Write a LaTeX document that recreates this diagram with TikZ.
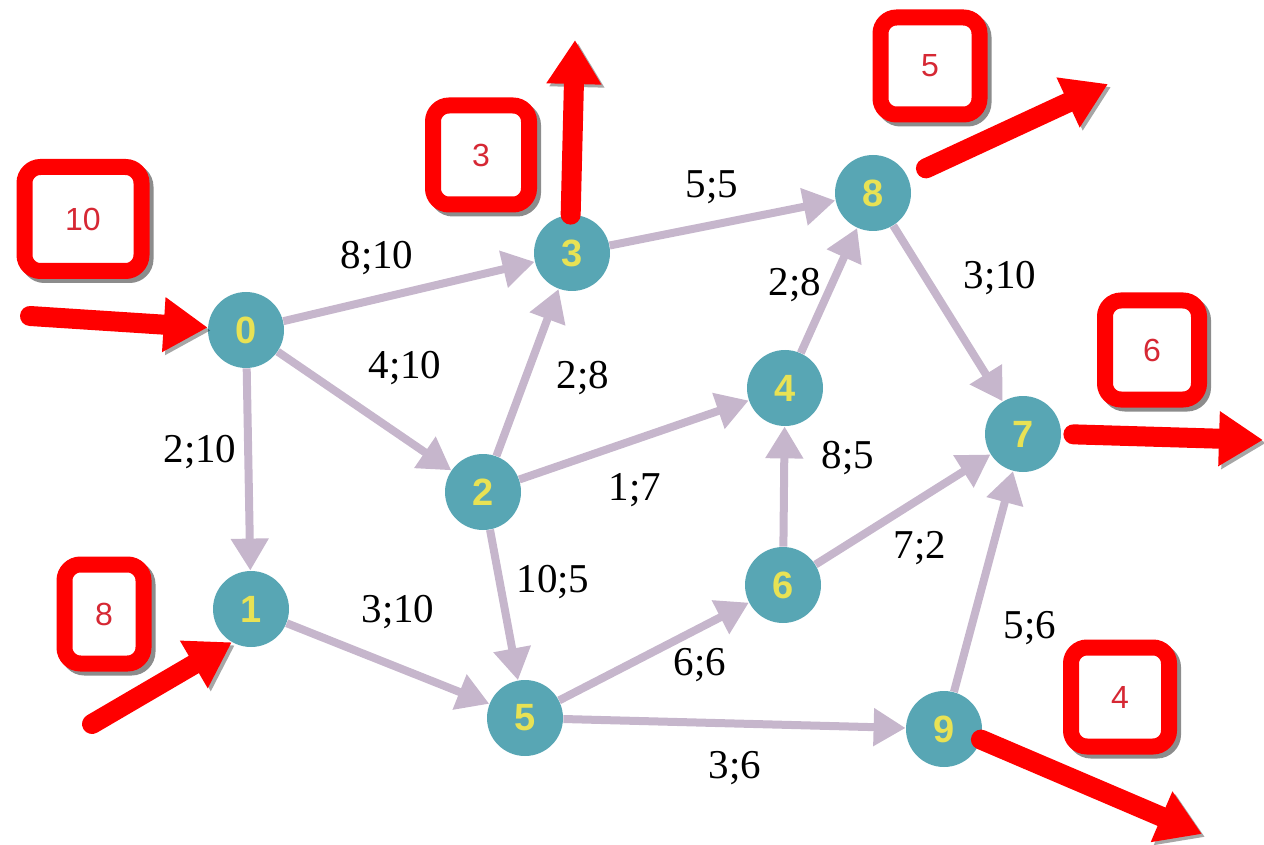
\documentclass[tikz,border=0pt]{standalone}
\usepackage{fontspec}
\setmainfont{Liberation Serif}
\newfontfamily\sansf{Liberation Sans}
\usetikzlibrary{arrows.meta}
\definecolor{nodec}{RGB}{88,166,180}
\definecolor{numc}{RGB}{232,226,84}
\definecolor{edgec}{RGB}{198,182,204}
\definecolor{boxred}{RGB}{255,0,0}
\definecolor{boxtext}{RGB}{214,40,52}
\tikzset{
  vert/.style={circle, fill=nodec, minimum size=38pt, inner sep=0pt,
    text=numc, font=\sansf\bfseries\fontsize{19}{19}\selectfont},
  edge/.style={draw=edgec, line width=4pt, -{Triangle[length=16pt,width=18pt]}},
  elabel/.style={font=\fontsize{20.5}{20.5}\selectfont, inner sep=0pt},
  redbox/.style={draw=boxred, line width=8pt, rounded corners=8pt, fill=white,
    text=boxtext, font=\sansf\fontsize{16}{16}\selectfont,
    preaction={draw=black, opacity=.45, line width=8pt, transform canvas={shift={(2pt,-2pt)}}}},
  redarrow/.style={draw=boxred, line width=10pt, line cap=round,
    -{Triangle[length=22pt,width=26pt]},
    preaction={draw=black, opacity=.35, transform canvas={shift={(1.5pt,-1.5pt)}}}}
}
\begin{document}
\begin{tikzpicture}[x=0.5pt,y=-0.5pt]
\useasboundingbox (0,0) rectangle (1264,845);
% vertices
\node[vert] (n0) at (246,330) {0};
\node[vert] (n1) at (251,609) {1};
\node[vert] (n2) at (483,492) {2};
\node[vert] (n3) at (572,253) {3};
\node[vert] (n4) at (785,388) {4};
\node[vert] (n5) at (525,718) {5};
\node[vert] (n6) at (783,585) {6};
\node[vert] (n7) at (1023,434) {7};
\node[vert] (n8) at (873,193) {8};
\node[vert] (n9) at (944,729) {9};
% edges
\draw[edge] (n0) -- (n3);
\draw[edge] (n0) -- (n2);
\draw[edge] (n0) -- (n1);
\draw[edge] (n3) -- (n8);
\draw[edge] (n2) -- (n3);
\draw[edge] (n2) -- (n4);
\draw[edge] (n2) -- (n5);
\draw[edge] (n4) -- (n8);
\draw[edge] (n8) -- (n7);
\draw[edge] (n6) -- (n4);
\draw[edge] (n6) -- (n7);
\draw[edge] (n1) -- (n5);
\draw[edge] (n5) -- (n6);
\draw[edge] (n5) -- (n9);
\draw[edge] (n9) -- (n7);
% edge labels
\node[elabel] (l03) at (377,258) {8;10};
\node[elabel] (l02) at (405,368) {4;10};
\node[elabel] (l01) at (200,452) {2;10};
\node[elabel] (l38) at (712,187) {5;5};
\node[elabel] (l23) at (583,378) {2;8};
\node[elabel] (l24) at (635,490) {1;7};
\node[elabel] (l25) at (553,582) {10;5};
\node[elabel] (l48) at (795,285) {2;8};
\node[elabel] (l87) at (1000,278) {3;10};
\node[elabel] (l64) at (848,458) {8;5};
\node[elabel] (l67) at (920,548) {7;2};
\node[elabel] (l15) at (398,612) {3;10};
\node[elabel] (l56) at (700,665) {6;6};
\node[elabel] (l59) at (735,768) {3;6};
\node[elabel] (l97) at (1030,628) {5;6};
% red boxes
\node[redbox, minimum width=58.5pt, minimum height=52pt] (b10) at (83,219) {10};
\node[redbox, minimum width=48pt, minimum height=49.5pt] (b3) at (481,155) {3};
\node[redbox, minimum width=49.5pt, minimum height=48.5pt] (b5) at (930,66) {5};
\node[redbox, minimum width=47pt, minimum height=49.5pt] (b6) at (1152,350) {6};
\node[redbox, minimum width=49pt, minimum height=49.5pt] (b4) at (1120,697) {4};
\node[redbox, minimum width=39.5pt, minimum height=49.5pt] (b8) at (104,614) {8};
% red flow arrows
\coordinate (in0) at (30,316);
\coordinate (in1) at (92,724);
\coordinate (out3) at (575,40);
\coordinate (out8) at (1108,84);
\coordinate (out7) at (1263,440);
\coordinate (out9) at (1202,834);
\draw[redarrow] (in0) -- (n0);
\draw[redarrow] (in1) -- (n1.-120);
\draw[redarrow] (n3.92) -- (out3);
\draw[redarrow, shorten <=10pt] (n8.25) -- (out8);
\draw[redarrow, shorten <=6pt] (n7.east) -- (out7);
\draw[redarrow] (n9.-16) -- (out9);
\end{tikzpicture}
\end{document}
